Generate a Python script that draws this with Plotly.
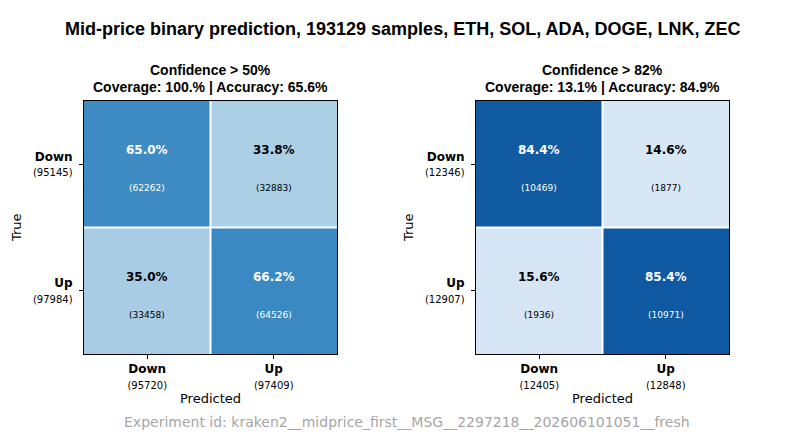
import plotly.graph_objects as go

# ---------------- data ----------------
classes = ["Down", "Up"]
main_title = "Mid-price binary prediction, 193129 samples, ETH, SOL, ADA, DOGE, LNK, ZEC"
footer = "Experiment id: kraken2__midprice_first__MSG__2297218__202606101051__fresh"

thresholds = ["Confidence > 50%", "Confidence > 82%"]
coverage = ["100.", "13.1"]
accuracy = ["65.6", "84.9"]

pct_left = [[65.0, 33.8], [35.0, 66.2]]
cnt_left = [[62262, 32883], [33458, 64526]]
true_tot_left = [95145, 97984]
pred_tot_left = [95720, 97409]

pct_right = [[84.4, 14.6], [15.6, 85.4]]
cnt_right = [[10469, 1877], [1936, 10971]]
true_tot_right = [12346, 12907]
pred_tot_right = [12405, 12848]

panels = [
    dict(pct=pct_left, cnt=cnt_left, tt=true_tot_left, pt=pred_tot_left,
         light="#abcfe5", dark="#3a89c2"),
    dict(pct=pct_right, cnt=cnt_right, tt=true_tot_right, pt=pred_tot_right,
         light="#d8e7f5", dark="#0e59a2"),
]

W, H = 791, 438
x_domains = [[84 / W, 337 / W], [476 / W, 729 / W]]
y_domain = [1 - 354 / H, 1 - 101 / H]

fig = go.Figure()
DV = "DejaVu Sans"
LS = "Liberation Sans, Arial"


def note(x, y, text, font, **kw):
    fig.add_annotation(x=x / W, y=1 - y / H, xref="paper", yref="paper", showarrow=False,
                       xanchor="center", yanchor="middle", text=text, font=font, **kw)


for k, p in enumerate(panels):
    xa = "x" if k == 0 else "x2"
    ya = "y" if k == 0 else "y2"
    zflat = [v for row in p["pct"] for v in row]
    fig.add_trace(go.Heatmap(
        z=p["pct"], x=[0, 1], y=[0, 1], xaxis=xa, yaxis=ya,
        colorscale=[[0, p["light"]], [1, p["dark"]]],
        zmin=min(zflat), zmax=max(zflat), showscale=False, hoverinfo="skip",
    ))
    mid = (min(zflat) + max(zflat)) / 2
    for i in range(2):
        for j in range(2):
            v = p["pct"][i][j]
            col = "white" if v > mid else "black"
            fig.add_annotation(x=j, y=i - 0.11, xref=xa, yref=ya, showarrow=False,
                               xanchor="center", yanchor="middle",
                               text=f"<b>{v:.1f}%</b>",
                               font=dict(family=DV, size=12, color=col))
            fig.add_annotation(x=j, y=i + 0.19, xref=xa, yref=ya, showarrow=False,
                               xanchor="center", yanchor="middle",
                               text=f"({p['cnt'][i][j]})",
                               font=dict(family=DV, size=9, color=col))
    # white separators
    fig.add_shape(type="line", x0=0.5, x1=0.5, y0=-0.5, y1=1.5, xref=xa, yref=ya,
                  line=dict(color="white", width=2))
    fig.add_shape(type="line", x0=-0.5, x1=1.5, y0=0.5, y1=0.5, xref=xa, yref=ya,
                  line=dict(color="white", width=2))

    axcommon = dict(showline=True, mirror=True, linecolor="black", linewidth=1,
                    ticks="outside", ticklen=4, tickcolor="black", showgrid=False,
                    zeroline=False, fixedrange=True)
    xticks = [f"<b>{c}</b><br><span style='font-size:10px'>({t})</span>"
              for c, t in zip(classes, p["pt"])]
    yticks = [f"<b>{c}</b><br><span style='font-size:10px'>({t})</span>"
              for c, t in zip(classes, p["tt"])]
    xkey = "xaxis" if k == 0 else "xaxis2"
    ykey = "yaxis" if k == 0 else "yaxis2"
    fig.update_layout({
        xkey: dict(axcommon, domain=x_domains[k], anchor=ya, range=[-0.5, 1.5],
                   tickvals=[0, 1], ticktext=xticks,
                   tickfont=dict(family=DV, size=12, color="black")),
        ykey: dict(axcommon, domain=y_domain, anchor=xa, range=[1.5, -0.5],
                   tickvals=[0, 1], ticktext=yticks, ticklabelstandoff=4,
                   tickfont=dict(family=DV, size=12, color="black")),
    })
    cxp = (x_domains[k][0] + x_domains[k][1]) / 2 * W
    # subplot title (two lines)
    note(cxp, 70, f"<b>{thresholds[k]}</b>", dict(family=LS, size=14, color="black"))
    note(cxp, 87, f"<b>Coverage: {coverage[k]}% | Accuracy: {accuracy[k]}%</b>",
         dict(family=LS, size=14, color="black"))
    # axis titles
    note(cxp, 398, "Predicted", dict(family=DV, size=13, color="black"))
    note(16 if k == 0 else 408, 228, "True", dict(family=DV, size=13, color="black"),
         textangle=-90)

note(402, 29, f"<b>{main_title}</b>", dict(family=LS, size=18, color="black"))
note(407, 422, footer, dict(family=DV, size=14, color="#a6a6a6"))

fig.update_layout(width=W, height=H, margin=dict(l=0, r=0, t=0, b=0),
                  paper_bgcolor="white", plot_bgcolor="white", showlegend=False)
fig.write_html("out.html")
